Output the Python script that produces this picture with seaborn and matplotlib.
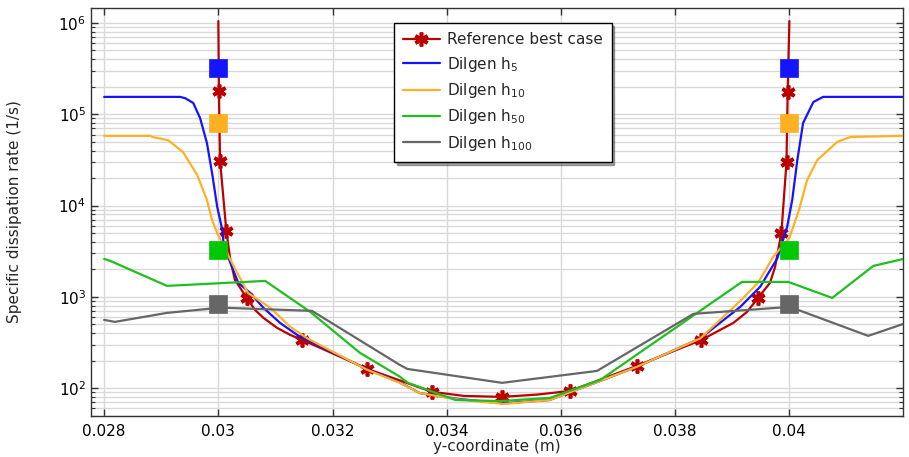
import numpy as np
import pandas as pd
import matplotlib
matplotlib.use("Agg")
import matplotlib.pyplot as plt
import seaborn as sns

# ---------------- data ----------------
red_x = [0.03000, 0.03001, 0.03003, 0.03014, 0.03021, 0.03029, 0.03050, 0.03064,
         0.03079, 0.03103, 0.03126, 0.03147, 0.03261, 0.03374, 0.03430, 0.03497,
         0.03560, 0.03616, 0.03733, 0.03846, 0.03902, 0.03926, 0.03945, 0.03966,
         0.03975, 0.03986, 0.03995, 0.03997, 0.04000]
red_y = [1.05e6, 1.8e5, 3.08e4, 5.3e3, 2.54e3, 1.53e3, 970, 720,
         587, 456, 382, 337, 162, 91, 82, 80,
         85, 93, 175, 337, 518, 684, 970, 1419,
         2126, 5.0e3, 3.0e4, 1.76e5, 1.05e6]
red_marked = [False, True, True, True, False, False, True, False,
              False, False, False, True, True, True, False, True,
              False, True, True, True, False, False, True, False,
              False, True, True, True, False]

h5_x = [0.02800, 0.02933, 0.02942, 0.02956, 0.02968, 0.02980, 0.02989, 0.02998,
        0.03007, 0.03009, 0.03021, 0.03035, 0.03056, 0.03079, 0.03108, 0.03138,
        0.03261, 0.03318, 0.03353, 0.03420, 0.03500, 0.03580, 0.03669, 0.03734,
        0.03844, 0.03914, 0.03949, 0.03979, 0.03996, 0.04005, 0.04014, 0.04024,
        0.04042, 0.04059, 0.04200]
h5_y = [1.55e5, 1.55e5, 1.50e5, 1.33e5, 9.1e4, 4.85e4, 2.28e4, 9.65e3,
        5.4e3, 3.9e3, 2.35e3, 1.42e3, 1.10e3, 756, 518, 382,
        160, 115, 88, 76, 68, 74, 120, 172,
        350, 775, 1290, 2650, 5.8e3, 1.15e4, 3.16e4, 8.0e4,
        1.36e5, 1.55e5, 1.55e5]

h10_x = [0.02800, 0.02881, 0.02884, 0.02912, 0.02938, 0.02963, 0.02980, 0.02989,
         0.02998, 0.03015, 0.03033, 0.03052, 0.03091, 0.03126, 0.03156, 0.03261,
         0.03318, 0.03353, 0.03420, 0.03500, 0.03580, 0.03669, 0.03734, 0.03844,
         0.03914, 0.03946, 0.03972, 0.04000, 0.04017, 0.04031, 0.04049, 0.04084,
         0.04107, 0.04200]
h10_y = [5.8e4, 5.8e4, 5.65e4, 5.2e4, 3.86e4, 2.16e4, 1.15e4, 6.95e3,
         5.0e3, 3.03e3, 1.83e3, 1.10e3, 756, 468, 350, 158,
         114, 88, 75, 67, 74, 120, 172, 350,
         900, 1450, 2760, 4.4e3, 9.0e3, 1.9e4, 3.16e4, 4.98e4,
         5.64e4, 5.8e4]

h50_x = [0.02800, 0.02811, 0.02910, 0.03082, 0.03161, 0.03248, 0.03318, 0.03332,
         0.03415, 0.03494, 0.03581, 0.03669, 0.03917, 0.03998, 0.04075, 0.04147,
         0.04200]
h50_y = [2600, 2470, 1317, 1493, 683, 243, 133, 114,
         74, 72, 78, 123, 1456, 1456, 972, 2178,
         2600]

h100_x = [0.02800, 0.02819, 0.02910, 0.03000, 0.03015, 0.03164, 0.03318, 0.03331,
          0.03497, 0.03663, 0.03832, 0.04001, 0.04138, 0.04200]
h100_y = [558, 531, 666, 756, 756, 701, 179, 162,
          114, 154, 650, 775, 373, 505]

square_x = [0.030, 0.040]
sq_h5 = [3.21e5, 3.21e5]
sq_h10 = [8.0e4, 8.0e4]
sq_h50 = [3.27e3, 3.27e3]
sq_h100 = [836, 836]

labels = ["Reference best case", "Dilgen h$_{5}$", "Dilgen h$_{10}$",
          "Dilgen h$_{50}$", "Dilgen h$_{100}$"]
x_ticks = [0.028, 0.030, 0.032, 0.034, 0.036, 0.038, 0.040]
x_tick_labels = ["0.028", "0.03", "0.032", "0.034", "0.036", "0.038", "0.04"]

c_red = "#bb0000"
c_blue = "#1414ff"
c_orange = "#ffb023"
c_green = "#1fbf1f"
c_gray = "#666666"
c_sq_green = "#00c800"

# ---------------- figure ----------------
sns.set_style("white")
plt.rcParams["font.family"] = ["DejaVu Sans"]
fig = plt.figure(figsize=(9.09, 4.57), dpi=100)
ax = fig.add_axes([91 / 909, 1 - 416 / 457, 812 / 909, 408 / 457])

lw = 1.6
sns.lineplot(x=red_x, y=red_y, ax=ax, color=c_red, lw=lw, estimator=None, sort=False,
             marker=(6, 2, 0), markersize=10, markeredgewidth=2.6,
             markeredgecolor=c_red, markevery=red_marked, label=labels[0], zorder=3)
sns.lineplot(x=h5_x, y=h5_y, ax=ax, color=c_blue, lw=lw, estimator=None, sort=False,
             label=labels[1], zorder=3)
sns.lineplot(x=h10_x, y=h10_y, ax=ax, color=c_orange, lw=lw, estimator=None, sort=False,
             label=labels[2], zorder=3)
sns.lineplot(x=h50_x, y=h50_y, ax=ax, color=c_green, lw=lw, estimator=None, sort=False,
             label=labels[3], zorder=3)
sns.lineplot(x=h100_x, y=h100_y, ax=ax, color=c_gray, lw=lw, estimator=None, sort=False,
             label=labels[4], zorder=3)

for ys, col in [(sq_h5, c_blue), (sq_h10, c_orange), (sq_h50, c_sq_green), (sq_h100, c_gray)]:
    sns.scatterplot(x=square_x, y=ys, ax=ax, marker="s", s=150, color=col,
                    edgecolor=col, linewidth=0.5, legend=False, zorder=4)

ax.set_yscale("log")
ax.set_xlim(0.02777, 0.04199)
ax.set_ylim(49.4, 1.46e6)
ax.set_xticks(x_ticks)
ax.set_xticklabels(x_tick_labels)

ax.grid(True, which="major", axis="both", color="#d9d9d9", lw=1.0, zorder=0)
ax.grid(True, which="minor", axis="y", color="#d9d9d9", lw=1.0, zorder=0)
ax.set_axisbelow(True)

ax.tick_params(which="both", direction="in", top=True, right=True, left=True, bottom=True,
               labelsize=11, colors="#333333", labelcolor="black")
ax.tick_params(which="major", length=5, width=1)
ax.tick_params(which="minor", length=3, width=0.8)
ax.tick_params(axis="x", pad=6)
for s in ax.spines.values():
    s.set_color("#333333")
    s.set_linewidth(1.0)

ax.set_xlabel("y-coordinate (m)", fontsize=11, labelpad=0)
ax.set_ylabel("Specific dissipation rate (1/s)", fontsize=11, labelpad=26)

leg = ax.legend(loc="upper left", bbox_to_anchor=(0.373, 0.963), fontsize=11,
                frameon=True, fancybox=False, shadow=True, edgecolor="black",
                framealpha=1, handlelength=2.4, handletextpad=0.45,
                labelspacing=0.48, borderpad=0.6, borderaxespad=0)
leg.get_frame().set_linewidth(1.0)

fig.savefig("out.png", dpi=100)
